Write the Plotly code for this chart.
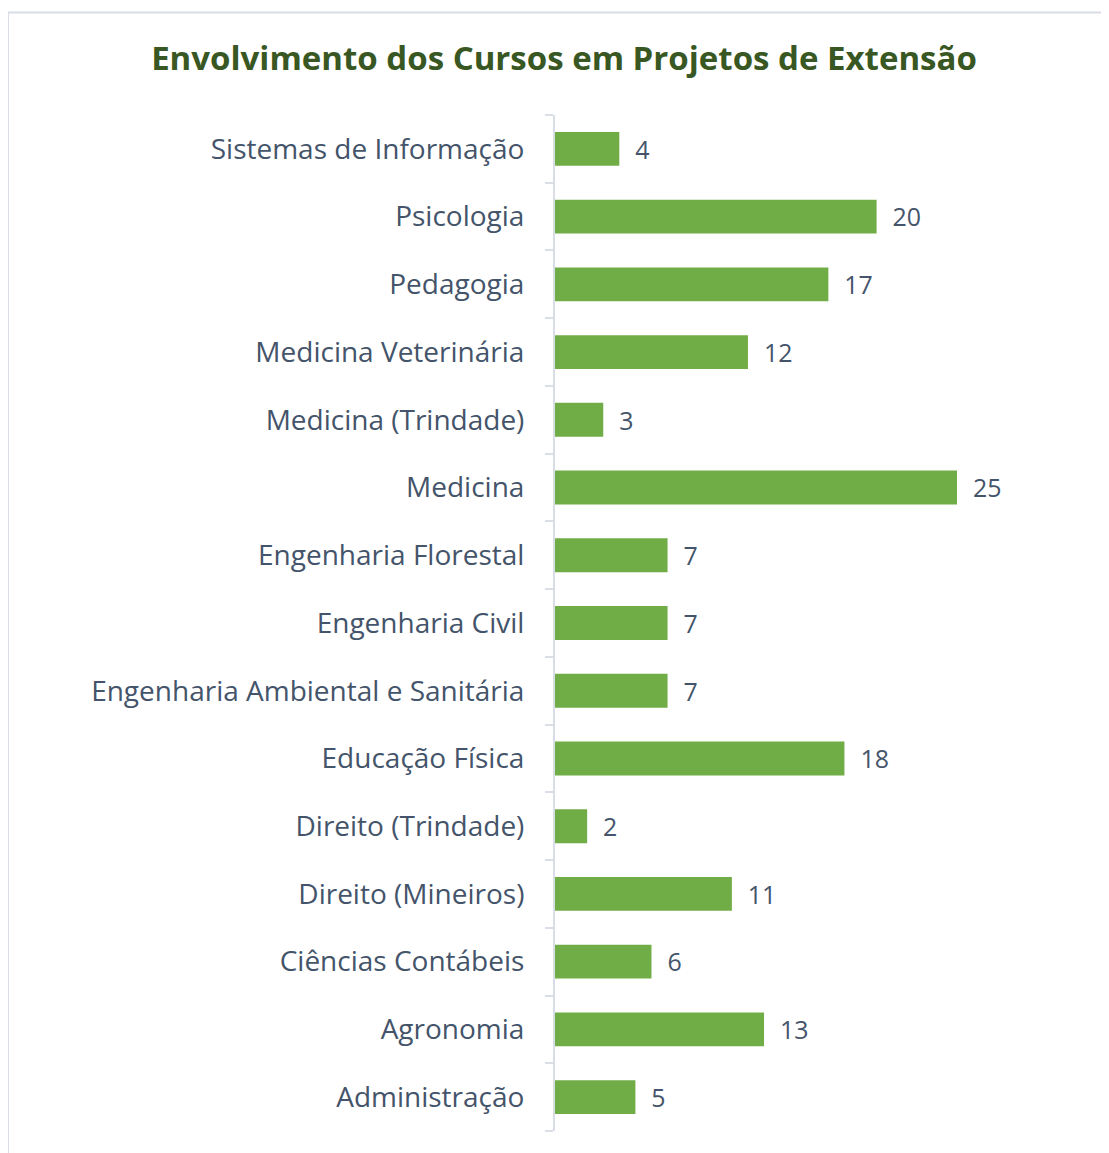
import plotly.graph_objects as go

# cursos (de baixo para cima, como no gráfico original)
cursos = [
    "Administração",
    "Agronomia",
    "Ciências Contábeis",
    "Direito (Mineiros)",
    "Direito (Trindade)",
    "Educação Física",
    "Engenharia Ambiental e Sanitária",
    "Engenharia Civil",
    "Engenharia Florestal",
    "Medicina",
    "Medicina (Trindade)",
    "Medicina Veterinária",
    "Pedagogia",
    "Psicologia",
    "Sistemas de Informação",
]
projetos = [5, 13, 6, 11, 2, 18, 7, 7, 7, 25, 3, 12, 17, 20, 4]

# a página tem 8 px de margem no body: posições abaixo já descontam isso
W, H = 1109, 1153
L, R, T, B = 547, 20, 107, 30
PX_PER_UNIT = 16.08
plot_w = W - L - R
plot_h = H - T - B
x_max = plot_w / PX_PER_UNIT

_COL_BAR = "#71ad46"
_COL_TXT = "#44546a"
_COL_TITLE = "#385723"
_COL_AXIS = "#d9dde5"


def px_x(px):
    return (px - L) / plot_w


def px_y(py):
    return (H - B - py) / plot_h


fig = go.Figure()
fig.add_trace(go.Bar(
    y=cursos, x=projetos, orientation="h",
    marker=dict(color=_COL_BAR, line=dict(width=0)),
    text=[f"  {v}" for v in projetos], textposition="outside",
    textfont=dict(color=_COL_TXT, size=28, family="Open Sans"),
    cliponaxis=False,
))

# moldura (só topo e esquerda visíveis)
fig.add_shape(type="line", xref="paper", yref="paper",
              x0=px_x(0), x1=px_x(W), y0=px_y(4.5), y1=px_y(4.5),
              line=dict(color=_COL_AXIS, width=2))
fig.add_shape(type="line", xref="paper", yref="paper",
              x0=px_x(0), x1=px_x(0), y0=px_y(4.5), y1=px_y(H),
              line=dict(color=_COL_AXIS, width=2))

fig.update_layout(
    width=W, height=H,
    title=dict(text="<b>Envolvimento dos Cursos em Projetos de Extensão</b>",
               x=556 / W, xanchor="center", y=1 - 50 / H, yanchor="middle",
               font=dict(size=33, color=_COL_TITLE, family="Open Sans")),
    xaxis=dict(range=[0, x_max], visible=False, fixedrange=True),
    yaxis=dict(
        showline=True, linecolor=_COL_AXIS, linewidth=2,
        ticks="outside", tickson="boundaries", ticklen=8, tickcolor=_COL_AXIS,
        tickwidth=2, ticklabelstandoff=23, showgrid=False,
        tickfont=dict(size=28, color=_COL_TXT, family="Open Sans"),
    ),
    bargap=0.5,
    showlegend=False,
    plot_bgcolor="white", paper_bgcolor="white",
    margin=dict(l=L, r=R, t=T, b=B, autoexpand=False),
)

fig.write_html("out.html")
